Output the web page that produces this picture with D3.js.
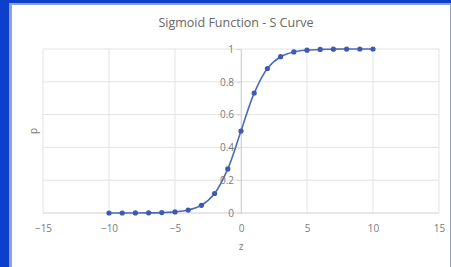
<!DOCTYPE html>
<html>
<head>
<meta charset="utf-8">
<script src="https://cdn.jsdelivr.net/npm/d3@7"></script>
<style>
  html, body { margin: 0; padding: 0; background: #0b3fcc; }
  svg { display: block; }
</style>
</head>
<body>
<svg id="chart" width="451" height="267"></svg>
<script>
// data
var zValues = [-10, -9, -8, -7, -6, -5, -4, -3, -2, -1, 0, 1, 2, 3, 4, 5, 6, 7, 8, 9, 10];
var pValues = [0.00005, 0.00012, 0.00034, 0.00091, 0.0025, 0.0067, 0.018, 0.047, 0.119, 0.269, 0.5,
               0.731, 0.881, 0.953, 0.982, 0.993, 0.9975, 0.999, 0.9997, 0.9999, 1.0];
var xTicks = [-15, -10, -5, 0, 5, 10, 15];
var yTicks = [0, 0.2, 0.4, 0.6, 0.8, 1];

var width = 451, height = 267;
var svg = d3.select("#chart");

// white chart panel with a greyish frame strip
svg.append("rect").attr("x", 9).attr("y", 3).attr("width", width - 9).attr("height", height - 3)
    .attr("fill", "#8fa3c8");
svg.append("rect").attr("x", 12).attr("y", 5).attr("width", width - 13).attr("height", height - 5)
    .attr("fill", "#ffffff");

var x = d3.scaleLinear().domain([-15, 15]).range([43, 439]);
var y = d3.scaleLinear().domain([0, 1]).range([213, 49]);

var grid = svg.append("g");
grid.selectAll("line.v")
    .data(xTicks)
    .enter().append("line")
    .attr("class", "v")
    .attr("x1", function (d) { return x(d); })
    .attr("x2", function (d) { return x(d); })
    .attr("y1", y(1))
    .attr("y2", y(0))
    .attr("stroke", "#e3e3e3")
    .attr("stroke-width", 1);
grid.selectAll("line.h")
    .data(yTicks)
    .enter().append("line")
    .attr("class", "h")
    .attr("x1", x(-15))
    .attr("x2", x(15))
    .attr("y1", function (d) { return y(d); })
    .attr("y2", function (d) { return y(d); })
    .attr("stroke", function (d) { return d === 0 ? "#cfcfcf" : "#e3e3e3"; })
    .attr("stroke-width", 1);

// y axis sits at z = 0
var yAxis = svg.append("g")
    .attr("transform", "translate(" + x(0) + ",0)")
    .call(d3.axisLeft(y).tickValues(yTicks).tickSize(4).tickPadding(3)
        .tickFormat(function (d) { return d3.format("")(+d.toFixed(1)); }));
yAxis.select(".domain").attr("stroke", "#d4d4d4");
yAxis.selectAll(".tick line").attr("stroke", "#d4d4d4");
yAxis.selectAll("text")
    .attr("fill", "#7a7a7a")
    .attr("font-family", "Open Sans, sans-serif")
    .attr("font-size", 10);

// x axis labels below the plot
var xAxis = svg.append("g")
    .attr("transform", "translate(0," + y(0) + ")")
    .call(d3.axisBottom(x).tickValues(xTicks).tickSize(0).tickPadding(12));
xAxis.select(".domain").remove();
xAxis.selectAll("text")
    .attr("fill", "#7a7a7a")
    .attr("font-family", "Open Sans, sans-serif")
    .attr("font-size", 10);

// smooth line + markers
var line = d3.line()
    .x(function (d, i) { return x(zValues[i]); })
    .y(function (d) { return y(d); })
    .curve(d3.curveCatmullRom);

svg.append("path")
    .datum(pValues)
    .attr("d", line)
    .attr("fill", "none")
    .attr("stroke", "#4a6cc0")
    .attr("stroke-width", 1.6);

svg.append("g").selectAll("circle")
    .data(pValues)
    .enter().append("circle")
    .attr("cx", function (d, i) { return x(zValues[i]); })
    .attr("cy", function (d) { return y(d); })
    .attr("r", 2.6)
    .attr("fill", "#3f58b3");

// titles
svg.append("text")
    .attr("x", 236).attr("y", 27)
    .attr("text-anchor", "middle")
    .attr("fill", "#666666")
    .attr("font-family", "Open Sans, sans-serif")
    .attr("font-size", 12.5)
    .text("Sigmoid Function - S Curve");

svg.append("text")
    .attr("x", x(0)).attr("y", 250)
    .attr("text-anchor", "middle")
    .attr("fill", "#7a7a7a")
    .attr("font-family", "Open Sans, sans-serif")
    .attr("font-size", 10)
    .text("z");

svg.append("text")
    .attr("transform", "translate(37," + y(0.5) + ") rotate(-90)")
    .attr("text-anchor", "middle")
    .attr("fill", "#7a7a7a")
    .attr("font-family", "Open Sans, sans-serif")
    .attr("font-size", 10)
    .text("p");
</script>
</body>
</html>
